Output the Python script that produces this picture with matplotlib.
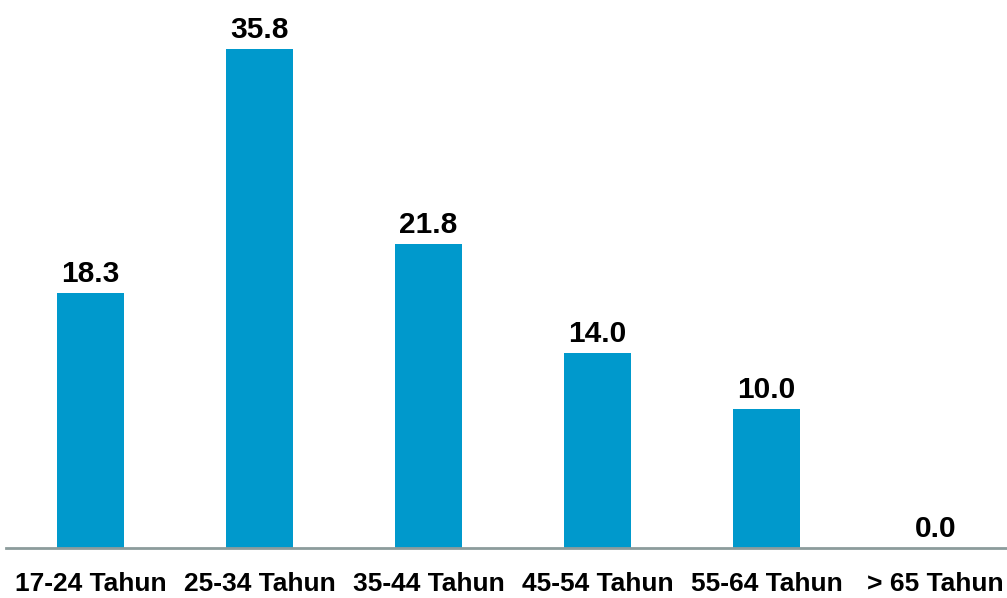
import matplotlib.pyplot as plt
import numpy as np

categories = ['17-24 Tahun', '25-34 Tahun', '35-44 Tahun', '45-54 Tahun', '55-64 Tahun', '> 65 Tahun']
values = [18.3, 35.8, 21.8, 14.0, 10.0, 0.0]

plt.rcParams['font.family'] = ['Liberation Sans', 'DejaVu Sans']

fig = plt.figure(figsize=(10.07, 5.98), dpi=100)
ax = fig.add_axes([6 / 1007, 50 / 598, 1001 / 1007, 548 / 598])

x = np.arange(len(categories))
bars = ax.bar(x, values, width=0.397, color='#0099CC')

for xi, v in zip(x, values):
    ax.annotate(f'{v:.1f}', (xi, v), xytext=(0, 3.5), textcoords='offset points',
                ha='center', va='bottom', fontsize=21.5, fontweight='bold')

ax.set_xlim(-0.5, 5.423)
ax.set_ylim(0, 39.3)
ax.set_xticks(x)
ax.set_xticklabels(categories, fontsize=19, fontweight='bold')
ax.tick_params(axis='x', length=0, pad=17.5)
ax.set_yticks([])
for s in ['top', 'right', 'left']:
    ax.spines[s].set_visible(False)
ax.spines['bottom'].set_color('#8C9C9C')
ax.spines['bottom'].set_linewidth(2)

fig.savefig('out.png', dpi=100)
